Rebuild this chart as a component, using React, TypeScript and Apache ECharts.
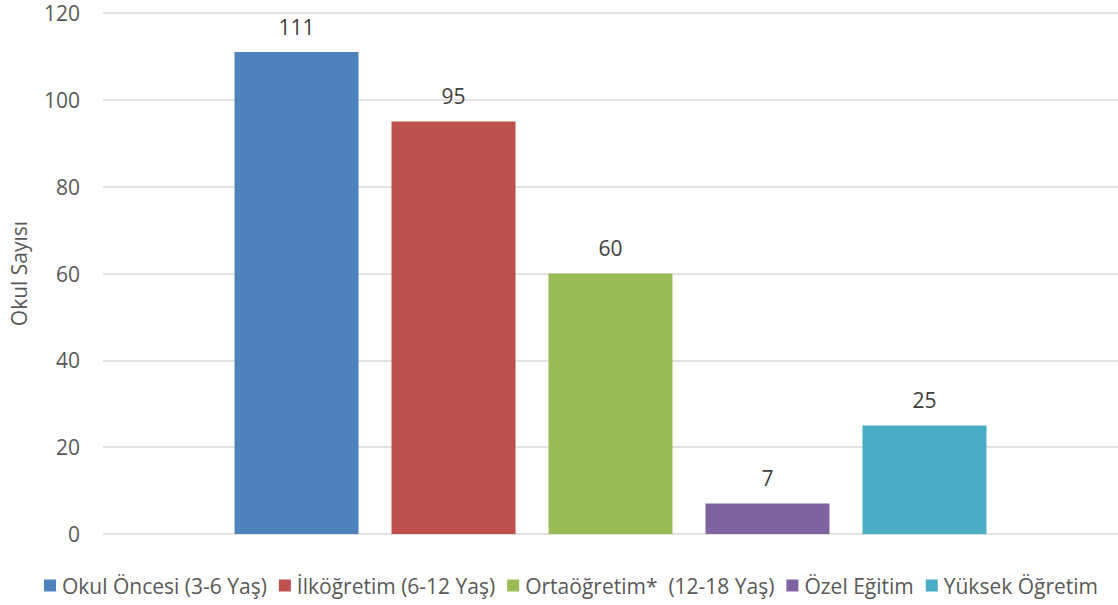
import React, { useEffect, useRef } from "react";
import * as echarts from "echarts";

const seriesNames = [
  "Okul Öncesi (3-6 Yaş)",
  "İlköğretim (6-12 Yaş)",
  "Ortaöğretim*  (12-18 Yaş)",
  "Özel Eğitim",
  "Yüksek Öğretim",
];
const seriesValues = [111, 95, 60, 7, 25];
const seriesColors = ["#4F81BD", "#C0504D", "#9BBB59", "#8064A2", "#4BACC6"];
const categories = [""];
const yAxisName = "Okul Sayısı";

export default function App() {
  const ref = useRef<HTMLDivElement>(null);
  useEffect(() => {
    document.body.style.margin = "0";
    const chart = echarts.init(ref.current!, null, { renderer: "svg" });
    const font = "Open Sans";
    const fs = 21;
    chart.setOption({
      animation: false,
      textStyle: { fontFamily: font, fontSize: fs },
      grid: { left: 103, right: -10, top: 13, bottom: 71, containLabel: false },
      legend: {
        bottom: 4,
        left: 39,
        itemWidth: 12,
        itemHeight: 12,
        itemGap: 12,
        icon: "rect",
        textStyle: { color: "#595959", fontSize: fs, fontFamily: font, padding: [0, 0, 0, 1] },
        data: seriesNames,
      },
      xAxis: {
        type: "category",
        data: categories,
        axisLine: { show: false },
        axisTick: { show: false },
        axisLabel: { show: false },
      },
      yAxis: {
        type: "value",
        min: 0,
        max: 120,
        interval: 20,
        name: yAxisName,
        nameLocation: "middle",
        nameGap: 74,
        nameTextStyle: { color: "#595959", fontSize: fs, fontFamily: font },
        axisLine: { show: false },
        axisTick: { show: false },
        axisLabel: { color: "#595959", fontSize: fs, margin: 23, fontFamily: font },
        splitLine: { lineStyle: { color: "#D9D9D9", width: 1.5 } },
      },
      series: seriesNames.map((name, i) => ({
        type: "bar",
        name,
        data: [seriesValues[i]],
        barWidth: 124,
        barGap: "26.6%",
        itemStyle: { color: seriesColors[i] },
        label: {
          show: true,
          position: "top",
          distance: 15,
          color: "#404040",
          fontSize: fs,
          fontFamily: font,
        },
      })),
    });
    return () => chart.dispose();
  }, []);
  return <div ref={ref} style={{ width: 1118, height: 605 }} />;
}
